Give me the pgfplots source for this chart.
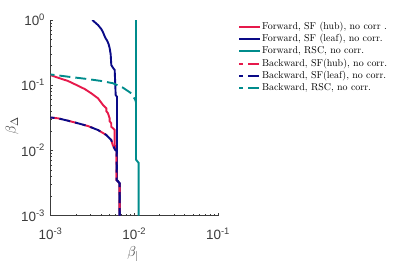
\documentclass[border=0pt]{standalone}
\usepackage{fontspec}
\setsansfont{Liberation Sans}
\usepackage{pgfplots}
\pgfplotsset{compat=1.18}
\definecolor{cred}{RGB}{230,25,75}
\definecolor{cblue}{RGB}{10,10,135}
\definecolor{cteal}{RGB}{0,140,140}
\definecolor{axgray}{RGB}{60,60,60}
\begin{document}
\begin{tikzpicture}
\path[use as bounding box] (-50.5bp,-45.5bp) rectangle (366.5bp,215.5bp);
\begin{axis}[
 scale only axis, width=167.5bp, height=195.5bp,
 xmode=log, ymode=log, xmin=1e-3, xmax=1e-1, ymin=1e-3, ymax=1,
 axis lines*=left, tick align=inside,
 axis line style={axgray, line width=0.5pt},
 every tick/.style={axgray, line width=0.4pt},
 major tick length=3bp, minor tick length=1.8bp,
 xtick={1e-3,1e-2,1e-1},
 xticklabels={10\textsuperscript{-3},10\textsuperscript{-2},10\textsuperscript{-1}},
 ytick={1e-3,1e-2,1e-1,1},
 yticklabels={10\textsuperscript{-3},10\textsuperscript{-2},10\textsuperscript{-1},10\textsuperscript{0}},
 tick label style={font=\sffamily\fontsize{13.5}{13.5}\selectfont, text=axgray},
 xticklabel style={yshift=-9bp},
 yticklabel style={xshift=-2bp},
 xlabel={$\beta_{|}$}, ylabel={$\beta_{\Delta}$},
 label style={font=\fontsize{15}{15}\selectfont, text=axgray},
 xlabel style={at={(axis description cs:0.4925,-0.197)}, anchor=center},
 ylabel style={at={(axis description cs:-0.23,0.458)}, anchor=center},
 legend style={at={(1.121,0.997)}, anchor=north west, draw=none, fill=none,
   inner sep=0pt, outer sep=0pt, font=\fontsize{10}{12}\selectfont,
   nodes={inner sep=1pt, text height=7.6pt, text depth=2.75pt},
   column sep=0pt, row sep=0pt},
 legend cell align=left,
 legend image code/.code={\draw[#1, dash phase=7bp] (0bp,0bp) -- (21bp,0bp);},
 every axis plot/.append style={line width=1.9bp},
]
% Forward, SF (hub)
\addplot[cred, solid] coordinates {
(1e-3,0.143) (1.229e-3,0.130) (1.618e-3,0.116) (2.13e-3,0.098) (2.56e-3,0.0873)
(3.07e-3,0.075) (3.69e-3,0.0629) (4.24e-3,0.0496) (4.64e-3,0.0442) (4.64e-3,0.040)
(4.86e-3,0.037) (5.09e-3,0.031) (5.09e-3,0.028) (5.32e-3,0.026) (5.32e-3,0.023)
(5.57e-3,0.0218) (5.84e-3,0.0205) (5.84e-3,0.0121)
(6.14e-3,0.0101) (6.14e-3,3.5e-3) (6.7e-3,3.12e-3) (6.7e-3,1e-3)};
\addlegendentry{Forward, SF (hub), no corr .}
% Forward, SF (leaf)
\addplot[cblue, solid] coordinates {
(3.155e-3,1) (3.69e-3,0.838) (4.04e-3,0.728) (4.24e-3,0.647) (4.51e-3,0.535)
(4.77e-3,0.476) (4.95e-3,0.424) (5.09e-3,0.368) (5.23e-3,0.298) (5.32e-3,0.204)
(5.57e-3,0.185) (5.84e-3,0.171) (5.94e-3,0.1005) (6.0e-3,0.0706) (6.22e-3,0.0665)
(6.22e-3,3.51e-3) (6.7e-3,3.12e-3) (6.7e-3,1e-3)};
\addlegendentry{Forward, SF (leaf), no corr.}
% Forward, RSC
\addplot[cteal, solid] coordinates {
(0.0105,1) (0.0105,7.2e-3) (0.0113,6.4e-3) (0.0113,1e-3)};
\addlegendentry{Forward, RSC, no corr.}
% Backward, SF(hub)
\addplot[cred, dash pattern=on 11bp off 5bp, dash phase=15bp] coordinates {
(1e-3,0.0319) (1.229e-3,0.031) (1.618e-3,0.0285) (2.13e-3,0.026) (2.8e-3,0.0236)
(3.69e-3,0.0205) (4.64e-3,0.0172) (5.32e-3,0.0144) (5.53e-3,0.0121) (5.94e-3,0.0101)
(6.14e-3,0.0098) (6.14e-3,3.5e-3) (6.7e-3,3.12e-3) (6.7e-3,1e-3)};
\addlegendentry{Backward, SF(hub), no corr.}
% Backward, SF(leaf)
\addplot[cblue, dash pattern=on 11bp off 5bp, dash phase=7bp] coordinates {
(1e-3,0.0319) (1.229e-3,0.031) (1.618e-3,0.0285) (2.13e-3,0.026) (2.8e-3,0.0236)
(3.69e-3,0.0205) (4.64e-3,0.0172) (5.32e-3,0.0144) (5.53e-3,0.0121) (5.94e-3,0.0101)
(6.14e-3,0.0098) (6.14e-3,3.5e-3) (6.7e-3,3.12e-3) (6.7e-3,1e-3)};
\addlegendentry{Backward, SF(leaf), no corr.}
% Backward, RSC
\addplot[cteal, dash pattern=on 11bp off 5bp, dash phase=7bp] coordinates {
(1e-3,0.146) (1.618e-3,0.135) (2.8e-3,0.124) (4.04e-3,0.116) (5.57e-3,0.107)
(7.34e-3,0.0914) (9.22e-3,0.075) (0.0103,0.0592) (0.0105,0.0542)};
\addlegendentry{Backward, RSC, no corr.}
\end{axis}
\end{tikzpicture}
\end{document}
